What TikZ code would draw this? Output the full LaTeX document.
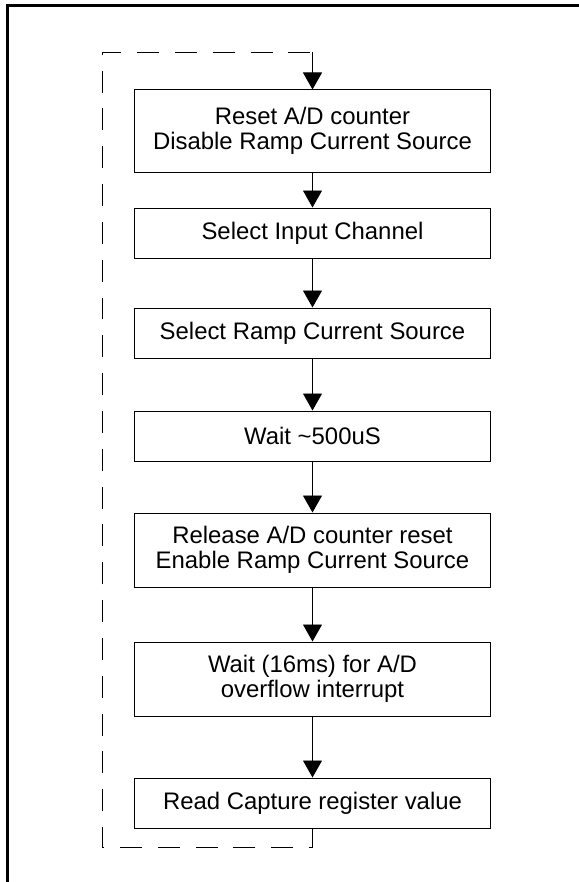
\documentclass[tikz,border=0pt]{standalone}
\usepackage{fontspec}
\setmainfont{Liberation Sans}
\usetikzlibrary{arrows.meta,positioning}

\begin{document}
\begin{tikzpicture}[x=0.025cm,y=-0.025cm,
    stepbox/.style={draw,line width=0.7pt,minimum width=8.875cm,align=center,
      inner sep=0pt,font=\fontsize{17}{17.5}\selectfont},
    flow/.style={line width=0.7pt,-{Triangle[width=4.75mm,length=4.25mm]}},
    loopline/.style={line width=0.7pt,dash pattern=on 15.6pt off 11.3pt}]
    \useasboundingbox (0,0) rectangle (579,882);

    % outer frame
    \draw[line width=1.8pt] (7.5,882) -- (7.5,5.5) -- (579,5.5);

    % steps
    \node[stepbox,minimum height=2.05cm] (reset) at (312.5,131)
      {Reset A/D counter\\Disable Ramp Current Source};
    \node[stepbox,minimum height=1.25cm] (channel) at (312.5,233) {Select Input Channel};
    \node[stepbox,minimum height=1.25cm] (ramp) at (312.5,333) {Select Ramp Current Source};
    \node[stepbox,minimum height=1.25cm] (wait) at (312.5,436) {Wait \textasciitilde500uS};
    \node[stepbox,minimum height=1.85cm] (release) at (312.5,550)
      {Release A/D counter reset\\Enable Ramp Current Source};
    \node[stepbox,minimum height=1.85cm] (overflow) at (312.5,679)
      {Wait (16ms) for A/D\\overflow interrupt};
    \node[stepbox,minimum height=1.25cm] (capture) at (312.5,803) {Read Capture register value};

    \foreach \a/\b in {reset/channel,channel/ramp,ramp/wait,wait/release,
      release/overflow,overflow/capture}
      \draw[flow] (\a) -- (\b);

    % loop back
    \coordinate (lowleft) at (102,847);
    \coordinate (upleft) at (102,52);
    \coordinate (upright) at (312.5,52);
    \draw[loopline] (capture.south) |- (lowleft) -- (upleft) -- (upright);
    \draw[flow] (upright) -- (reset.north);
  \end{tikzpicture}
\end{document}
